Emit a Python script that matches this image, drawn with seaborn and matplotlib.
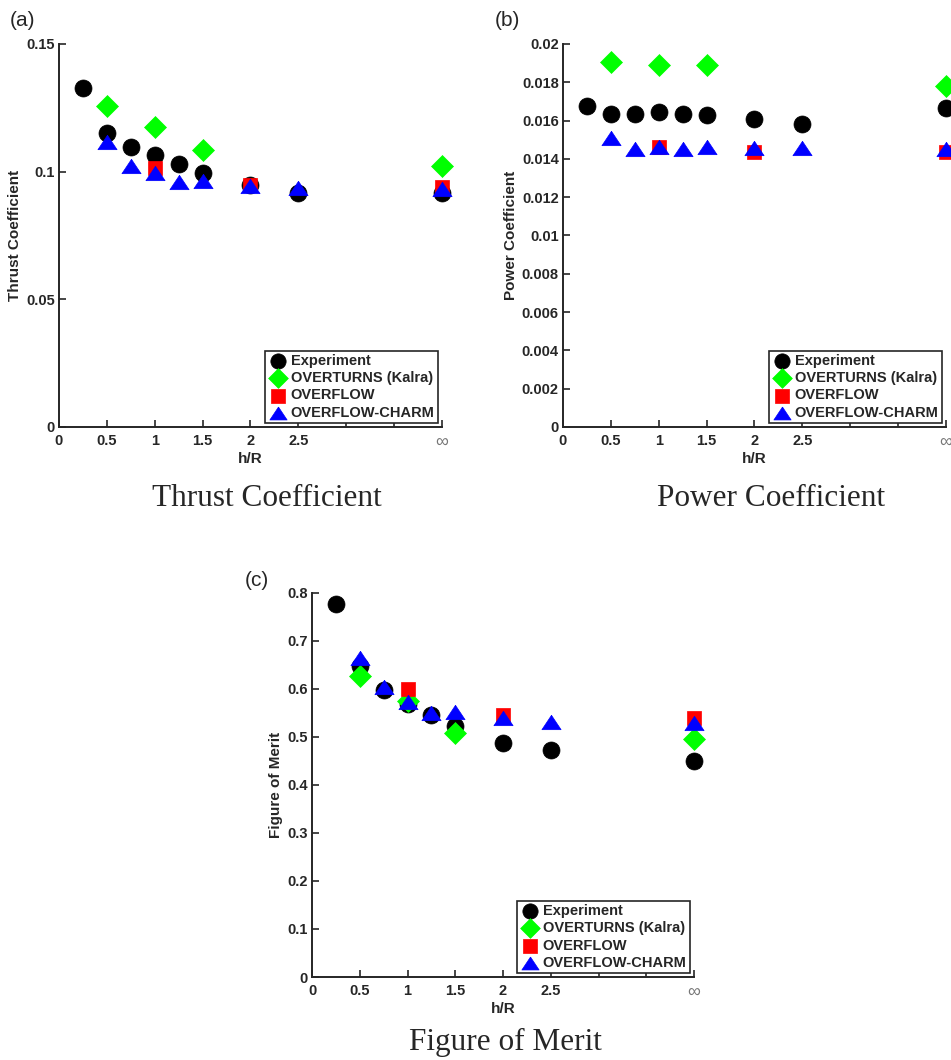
import matplotlib
matplotlib.use("Agg")
import matplotlib.pyplot as plt
import seaborn as sns
import pandas as pd

# h/R positions; 4.0 stands for h/R = infinity on the plot
INF_POS = 4.0
x_exp = [0.25, 0.5, 0.75, 1.0, 1.25, 1.5, 2.0, 2.5, INF_POS]
x_kalra = [0.5, 1.0, 1.5, INF_POS]
x_overflow = [1.0, 2.0, INF_POS]
x_charm = [0.5, 0.75, 1.0, 1.25, 1.5, 2.0, 2.5, INF_POS]

# (a) thrust coefficient
ct_exp = [0.1329, 0.1153, 0.1098, 0.1066, 0.1030, 0.0996, 0.0948, 0.0916, 0.0916]
ct_kalra = [0.1257, 0.1176, 0.1085, 0.1024]
ct_overflow = [0.1016, 0.0948, 0.0939]
ct_charm = [0.1118, 0.1024, 0.0994, 0.0959, 0.0964, 0.0944, 0.0935, 0.0933]

# (b) power coefficient
cp_exp = [0.01677, 0.01635, 0.01637, 0.01643, 0.01637, 0.01628, 0.01607, 0.01581, 0.01668]
cp_kalra = [0.01906, 0.01889, 0.01889, 0.01783]
cp_overflow = [0.01464, 0.01435, 0.01435]
cp_charm = [0.01508, 0.01450, 0.01464, 0.01452, 0.01461, 0.01456, 0.01456, 0.01450]

# (c) figure of merit
fm_exp = [0.777, 0.647, 0.598, 0.568, 0.545, 0.522, 0.488, 0.472, 0.449]
fm_kalra = [0.626, 0.575, 0.508, 0.495]
fm_overflow = [0.600, 0.545, 0.539]
fm_charm = [0.664, 0.605, 0.573, 0.550, 0.551, 0.539, 0.531, 0.530]

series_names = ["Experiment", "OVERTURNS (Kalra)", "OVERFLOW", "OVERFLOW-CHARM"]
series_colors = ["#000000", "#00ff00", "#ff0000", "#0000ff"]
# wide triangle like matlab's
triangle = [(0, 0.75), (1, -0.75), (-1, -0.75), (0, 0.75)]
series_markers = ["o", "D", "s", triangle]
series_sizes = [150, 125, 110, 190]

x_ticks = [0, 0.5, 1, 1.5, 2, 2.5, 3, 3.5, 4]
x_ticklabels = ["0", "0.5", "1", "1.5", "2", "2.5", "", "", "\u221e"]

sns.set_style("ticks")
plt.rcParams["font.family"] = ["Liberation Sans", "DejaVu Sans"]


def draw_panel(ax, ys, ylim, yticks, ylabel):
    xs = [x_exp, x_kalra, x_overflow, x_charm]
    for x, y, name, c, m, s in zip(xs, ys, series_names, series_colors,
                                   series_markers, series_sizes):
        df = pd.DataFrame({"hR": x, "val": y})
        sns.scatterplot(data=df, x="hR", y="val", ax=ax, color=c, marker=m,
                        s=s, edgecolor=c, linewidth=0.5, label=name,
                        clip_on=False, zorder=3)
    ax.set_xlim(0, 4)
    ax.set_ylim(*ylim)
    ax.set_xticks(x_ticks)
    ax.set_xticklabels(x_ticklabels)
    ax.set_yticks(yticks)
    ax.set_yticklabels(["%g" % t for t in yticks])
    for lab in ax.get_xticklabels() + ax.get_yticklabels():
        lab.set_fontweight("bold")
        lab.set_fontsize(10.5)
        lab.set_color("#262626")
    inf_lab = ax.get_xticklabels()[-1]
    inf_lab.set_fontweight("normal")
    inf_lab.set_color("#777777")
    inf_lab.set_fontsize(13)
    ax.tick_params(direction="in", length=5, width=1.2, color="#262626", pad=3)
    ax.tick_params(axis="x", pad=5)
    sns.despine(ax=ax)
    for sp in ["left", "bottom"]:
        ax.spines[sp].set_linewidth(1.4)
        ax.spines[sp].set_color("#262626")
    ax.set_xlabel("h/R", fontsize=11, fontweight="bold", color="#262626", labelpad=1)
    ax.set_ylabel(ylabel, fontsize=11, fontweight="bold", color="#262626", labelpad=3)
    leg = ax.legend(loc="lower right", frameon=True, fancybox=False,
                    edgecolor="#262626", framealpha=1, borderpad=0.2,
                    handletextpad=0.15, handlelength=1.4, labelspacing=0.22,
                    borderaxespad=0.3, prop={"weight": "bold", "size": 10.5},
                    markerscale=0.9)
    leg.get_frame().set_linewidth(1.2)


fig = plt.figure(figsize=(9.51, 10.60), dpi=100)
ax_a = fig.add_axes([0.0620, 0.5972, 0.4027, 0.3613])
ax_b = fig.add_axes([0.5920, 0.5972, 0.4027, 0.3613])
ax_c = fig.add_axes([0.3281, 0.0783, 0.4017, 0.3623])

draw_panel(ax_a, [ct_exp, ct_kalra, ct_overflow, ct_charm], (0, 0.15),
           [0, 0.05, 0.1, 0.15], "Thrust Coefficient")
draw_panel(ax_b, [cp_exp, cp_kalra, cp_overflow, cp_charm], (0, 0.02),
           [0, 0.002, 0.004, 0.006, 0.008, 0.01, 0.012, 0.014, 0.016, 0.018, 0.02],
           "Power Coefficient")
draw_panel(ax_c, [fm_exp, fm_kalra, fm_overflow, fm_charm], (0, 0.8),
           [0, 0.1, 0.2, 0.3, 0.4, 0.5, 0.6, 0.7, 0.8], "Figure of Merit")

# panel letters
fig.text(10 / 951, 1 - 20 / 1060, "(a)", fontsize=15, va="center", ha="left")
fig.text(495 / 951, 1 - 20 / 1060, "(b)", fontsize=15, va="center", ha="left")
fig.text(245 / 951, 1 - 580 / 1060, "(c)", fontsize=15, va="center", ha="left")

# captions
cap_font = {"family": ["Liberation Serif", "DejaVu Serif"], "size": 22.5}
fig.text(267 / 951, 1 - 498 / 1060, "Thrust Coefficient", ha="center", va="center", **cap_font)
fig.text(771 / 951, 1 - 498 / 1060, "Power Coefficient", ha="center", va="center", **cap_font)
fig.text(505 / 951, 1 - 1042 / 1060, "Figure of Merit", ha="center", va="center", **cap_font)

fig.savefig("out.png", dpi=100, facecolor="white")
